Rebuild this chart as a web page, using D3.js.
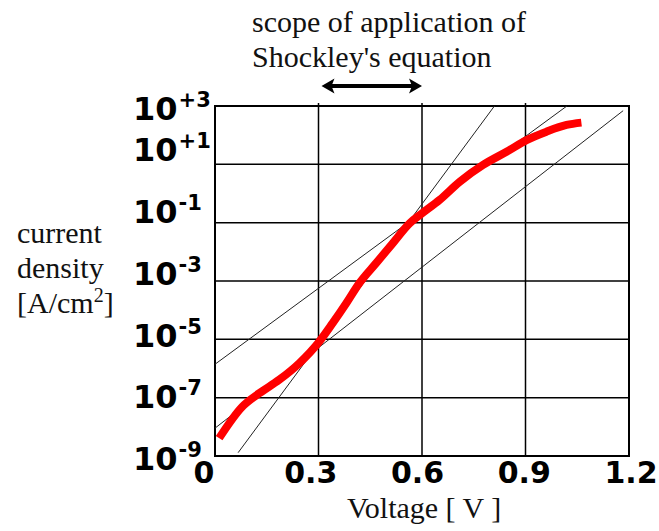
<!DOCTYPE html>
<html>
<head>
<meta charset="utf-8">
<script src="https://cdn.jsdelivr.net/npm/d3@7/dist/d3.min.js"></script>
<style>
  html, body { margin: 0; padding: 0; background: #fff; }
  svg { display: block; }
</style>
</head>
<body>
<svg id="chart" width="659" height="531"></svg>
<script>
// ---------------- data ----------------
const voltage = [0.012, 0.079, 0.128, 0.186, 0.244, 0.302, 0.341, 0.380, 0.418, 0.467, 0.515,
                 0.564, 0.598, 0.651, 0.709, 0.777, 0.845, 0.903, 0.961, 1.019, 1.062];
const currentDensity = [4.1e-9, 4.9e-8, 1.41e-7, 4.1e-7, 1.51e-6, 8.3e-6, 3.6e-5, 1.7e-4, 8.3e-4,
                        4.1e-3, 1.95e-2, 9.5e-2, 0.2, 0.603, 2.51, 9.55, 26.9, 67.6, 132, 224, 269];

// tangent (Shockley fit) lines: [voltage, current density] end points
const lineSteep = [[0.067, 1.3e-9], [0.81, 1e3]];
const lineUpper = [[0.0, 1.4e-6], [1.02, 1e3]];
const lineLower = [[0.0, 9.0e-9], [1.183, 6.9e2]];

const xTicks = [0, 0.3, 0.6, 0.9, 1.2];
const xTickLabels = ["0", "0.3", "0.6", "0.9", "1.2"];
const yTicks = [1e3, 1e1, 1e-1, 1e-3, 1e-5, 1e-7, 1e-9];
const yTickExponents = ["+3", "+1", "-1", "-3", "-5", "-7", "-9"];
const scopeRange = [0.3, 0.6];

const titleLines = ["scope of application of", "Shockley's equation"];
const yLabelLines = ["current", "density"];
const xLabel = "Voltage [ V ]";

// ---------------- layout ----------------
const svg = d3.select("#chart");
const pLeft = 215, pRight = 629, pTop = 106, pBottom = 456;

const x = d3.scaleLinear().domain([0, 1.2]).range([pLeft, pRight]);
const y = d3.scaleLog().domain([1e-9, 1e3]).range([pBottom, pTop]);
// label placement scales (labels are offset from the grid in the original)
const xLab = d3.scaleLinear().domain([0, 1.2]).range([204, 631]);
const yLab = d3.scaleLog().domain([1e-9, 1e-1]).range([470, 223]);

const serif = "'Liberation Serif', 'Times New Roman', serif";
const bold = "'DejaVu Sans', sans-serif";

// grid lines
const g = svg.append("g");
g.selectAll("line.h").data(yTicks.filter(d => d < 1e3 && d > 1e-9)).enter()
  .append("line")
  .attr("x1", pLeft).attr("x2", pRight)
  .attr("y1", d => y(d)).attr("y2", d => y(d))
  .attr("stroke", "#000").attr("stroke-width", 1.5);
g.selectAll("line.v").data(xTicks.filter(d => d > 0 && d < 1.2)).enter()
  .append("line")
  .attr("x1", d => x(d)).attr("x2", d => x(d))
  .attr("y1", pTop - 3).attr("y2", pBottom)
  .attr("stroke", "#000").attr("stroke-width", 1.5);

// frame
svg.append("rect")
  .attr("x", pLeft).attr("y", pTop)
  .attr("width", pRight - pLeft).attr("height", pBottom - pTop)
  .attr("fill", "none").attr("stroke", "#000").attr("stroke-width", 2);

// tangent lines
const lineGen = d3.line().x(d => x(d[0])).y(d => y(d[1]));
svg.selectAll("path.tan").data([lineSteep, lineUpper, lineLower]).enter()
  .append("path")
  .attr("d", lineGen)
  .attr("fill", "none").attr("stroke", "#222").attr("stroke-width", 1);

// measured curve
const curveData = voltage.map((v, i) => [v, currentDensity[i]]);
svg.append("path")
  .datum(curveData)
  .attr("d", d3.line().x(d => x(d[0])).y(d => y(d[1])).curve(d3.curveMonotoneX))
  .attr("fill", "none").attr("stroke", "#ff0000").attr("stroke-width", 8)
  .attr("stroke-linejoin", "round");

// x tick labels
svg.selectAll("text.xt").data(xTicks).enter()
  .append("text")
  .attr("x", d => xLab(d)).attr("y", 483)
  .attr("text-anchor", "middle")
  .attr("font-family", bold).attr("font-weight", "bold").attr("font-size", 30)
  .attr("fill", "#000")
  .text((d, i) => xTickLabels[i]);

// y tick labels
const yt = svg.selectAll("text.yt").data(yTicks).enter()
  .append("text")
  .attr("x", 133).attr("y", d => Math.max(yLab(d), 120))
  .attr("font-family", bold).attr("font-weight", "bold").attr("font-size", 32)
  .attr("fill", "#000");
yt.append("tspan").text("10");
yt.append("tspan").attr("dy", -13).attr("dx", 1).attr("font-size", 21)
  .text((d, i) => yTickExponents[i]);

// title
svg.selectAll("text.title").data(titleLines).enter()
  .append("text")
  .attr("x", 252).attr("y", (d, i) => 32 + i * 35)
  .attr("font-family", serif).attr("font-size", 30).attr("fill", "#111")
  .text(d => d);

// scope arrow
const ay = 86;
const ax0 = x(scopeRange[0]) + 3, ax1 = x(scopeRange[1]);
svg.append("line")
  .attr("x1", ax0 + 8).attr("x2", ax1 - 8).attr("y1", ay).attr("y2", ay)
  .attr("stroke", "#000").attr("stroke-width", 4);
svg.append("path")
  .attr("d", `M${ax0},${ay} L${ax0 + 13},${ay - 7.5} L${ax0 + 10},${ay} L${ax0 + 13},${ay + 7.5} Z`)
  .attr("fill", "#000");
svg.append("path")
  .attr("d", `M${ax1},${ay} L${ax1 - 13},${ay - 7.5} L${ax1 - 10},${ay} L${ax1 - 13},${ay + 7.5} Z`)
  .attr("fill", "#000");

// y axis label
svg.selectAll("text.yl").data(yLabelLines).enter()
  .append("text")
  .attr("x", 17).attr("y", (d, i) => 243 + i * 35)
  .attr("font-family", serif).attr("font-size", 30).attr("fill", "#111")
  .text(d => d);
const unit = svg.append("text")
  .attr("x", 17).attr("y", 313)
  .attr("font-family", serif).attr("font-size", 30).attr("fill", "#111");
unit.append("tspan").text("[A/cm");
unit.append("tspan").attr("dy", -11).attr("font-size", 20).text("2");
unit.append("tspan").attr("dy", 11).text("]");

// x axis label
svg.append("text")
  .attr("x", 347).attr("y", 518)
  .attr("font-family", serif).attr("font-size", 30).attr("fill", "#111")
  .text(xLabel);
</script>
</body>
</html>
